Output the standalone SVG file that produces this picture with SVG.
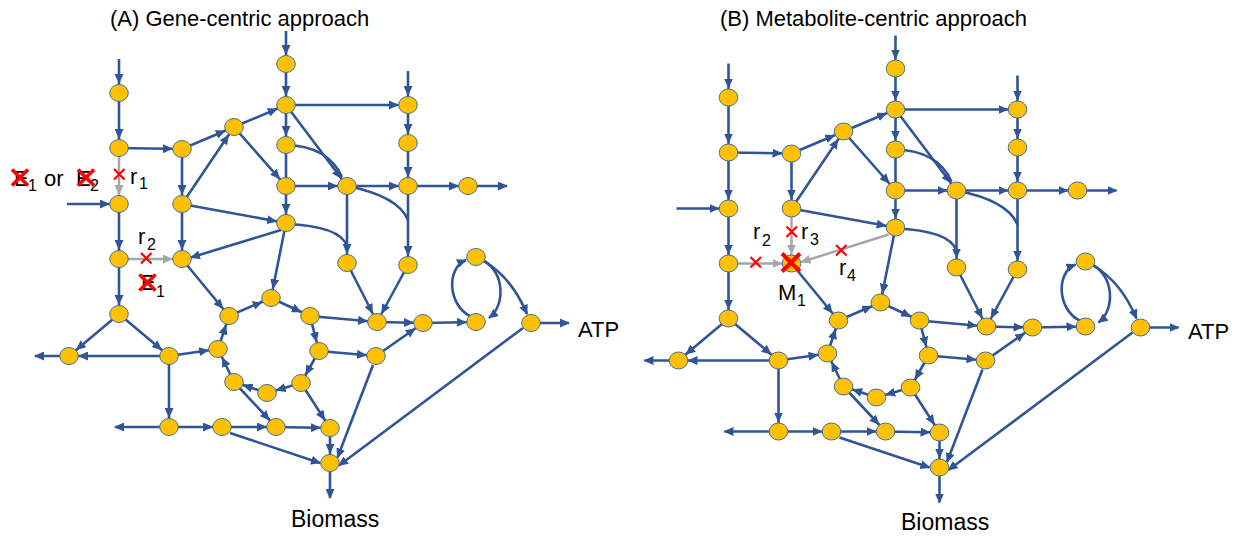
<svg xmlns="http://www.w3.org/2000/svg" width="1247" height="537" viewBox="0 0 1247 537">
<style>
.e{stroke:#2F5597;stroke-width:2.6;fill:none;marker-end:url(#a)}
.ef{stroke:#2F5597;stroke-width:2.6;fill:none;marker-end:url(#f)}
.en{stroke:#2F5597;stroke-width:2.6;fill:none}
.g{stroke:#A6A6A6;stroke-width:2.4;fill:none;marker-end:url(#ga)}
.gf{stroke:#A6A6A6;stroke-width:2.4;fill:none;marker-end:url(#gf)}
.node ellipse{fill:#FFC000;stroke:#41719C;stroke-width:1}
.x{stroke:#FF0000;stroke-width:2.2;fill:none}
.X{stroke:#FF0000;stroke-width:3.6;fill:none}
text{font-family:"Liberation Sans",Arial,sans-serif;fill:#000}
.t{font-size:22px}
.l{font-size:22px}
.s{font-size:16px}
</style>
<defs>
<marker id="a" markerUnits="userSpaceOnUse" markerWidth="10" markerHeight="9" viewBox="0 0 10 9" refX="19" refY="4.5" orient="auto"><path d="M0,0 L10,4.5 L0,9 z" fill="#2F5597"/></marker>
<marker id="f" markerUnits="userSpaceOnUse" markerWidth="10" markerHeight="9" viewBox="0 0 10 9" refX="9" refY="4.5" orient="auto"><path d="M0,0 L10,4.5 L0,9 z" fill="#2F5597"/></marker>
<marker id="ga" markerUnits="userSpaceOnUse" markerWidth="10" markerHeight="9" viewBox="0 0 10 9" refX="19" refY="4.5" orient="auto"><path d="M0,0 L10,4.5 L0,9 z" fill="#A6A6A6"/></marker>
<marker id="gf" markerUnits="userSpaceOnUse" markerWidth="10" markerHeight="9" viewBox="0 0 10 9" refX="9" refY="4.5" orient="auto"><path d="M0,0 L10,4.5 L0,9 z" fill="#A6A6A6"/></marker>
</defs>

<!-- Panel A -->
<g id="panelA">
<g id="a-edges">
<path class="e" d="M119,59 L119,93"/>
<path class="e" d="M286,31 L286,64"/>
<path class="e" d="M408,71 L408,105"/>
<path class="e" d="M67,204 L119,204"/>
<path class="e" d="M119,93 L119,148"/>
<path class="g" d="M119,148 L119,204"/>
<path class="e" d="M119,148 L182,149"/>
<path class="e" d="M119,204 L119,259"/>
<path class="g" d="M119,259 L182,259"/>
<path class="e" d="M119,259 L119,314"/>
<path class="e" d="M182,149 L182,204"/>
<path class="e" d="M182,149 L234,127"/>
<path class="e" d="M182,204 L182,259"/>
<path class="e" d="M182,204 L234,127"/>
<path class="e" d="M182,204 L286,223"/>
<path class="e" d="M234,127 L286,105"/>
<path class="e" d="M234,127 L286,186"/>
<path class="e" d="M286,64 L286,105"/>
<path class="e" d="M286,105 L286,145"/>
<path class="e" d="M286,105 L408,105"/>
<path class="e" d="M286,105 L347,186"/>
<path class="en" d="M286,145 L286,186"/>
<path class="en" d="M286,145 Q328,146 342,177"/>
<path class="e" d="M286,186 L286,223"/>
<path class="e" d="M286,186 L347,186"/>
<path class="ef" d="M281,230 L191,257.5"/>
<path class="e" d="M286,223 L271,298"/>
<path class="en" d="M286,224 Q340,226 347,246"/>
<path class="e" d="M408,105 L408,143"/>
<path class="e" d="M408,143 L408,186"/>
<path class="e" d="M347,186 L408,186"/>
<path class="e" d="M347,186 L347,263"/>
<path class="en" d="M347,186 Q398,196 408,220"/>
<path class="e" d="M408,186 L468,186"/>
<path class="ef" d="M468,186 L507,186"/>
<path class="e" d="M408,186 L408,265"/>
<path class="e" d="M347,263 L377,322"/>
<path class="e" d="M408,265 L377,322"/>
<path class="e" d="M377,322 L423,323"/>
<path class="e" d="M376,356 L423,323"/>
<path class="e" d="M423,323 L476,322"/>
<path class="ef" d="M470,316 C448,305 446,268 466,260"/>
<path class="ef" d="M484,261 C504,272 506,305 489,318"/>
<path class="ef" d="M484,261 Q512,278 527,314"/>
<path class="ef" d="M531,323 L569,323"/>
<path class="ef" d="M523,328 L339,465.5"/>
<path class="e" d="M182,259 L229,316"/>
<path class="e" d="M229,316 L271,298"/>
<path class="e" d="M271,298 L310,316"/>
<path class="e" d="M310,316 L319,351"/>
<path class="e" d="M319,351 L301,383"/>
<path class="e" d="M301,383 L267,393"/>
<path class="e" d="M267,393 L234,382"/>
<path class="e" d="M234,382 L218,349"/>
<path class="e" d="M218,349 L229,316"/>
<path class="e" d="M169,356 L218,349"/>
<path class="e" d="M310,316 L377,322"/>
<path class="e" d="M319,351 L376,356"/>
<path class="ef" d="M373,365 L337.5,457.5"/>
<path class="e" d="M301,383 L330,428"/>
<path class="e" d="M234,382 L276,427"/>
<path class="e" d="M119,314 L69,356"/>
<path class="e" d="M119,314 L169,356"/>
<path class="e" d="M169,356 L69,356"/>
<path class="ef" d="M69,356 L35,356"/>
<path class="e" d="M169,356 L169,427"/>
<path class="ef" d="M169,427 L115,427"/>
<path class="e" d="M169,427 L222,427"/>
<path class="e" d="M222,427 L276,427"/>
<path class="e" d="M276,427 L330,428"/>
<path class="e" d="M330,428 L330,463"/>
<path class="ef" d="M230,433 L320,463"/>
<path class="ef" d="M330,463 L330,498"/>
</g>
<g id="a-n1" class="node"><ellipse cx="119" cy="93" rx="9.3" ry="8.5"/></g>
<g id="a-n2" class="node"><ellipse cx="119" cy="148" rx="9.3" ry="8.5"/></g>
<g id="a-n3" class="node"><ellipse cx="119" cy="204" rx="9.3" ry="8.5"/></g>
<g id="a-n4" class="node"><ellipse cx="119" cy="259" rx="9.3" ry="8.5"/></g>
<g id="a-n5" class="node"><ellipse cx="182" cy="149" rx="9.3" ry="8.5"/></g>
<g id="a-n6" class="node"><ellipse cx="182" cy="204" rx="9.3" ry="8.5"/></g>
<g id="a-n7" class="node"><ellipse cx="182" cy="259" rx="9.3" ry="8.5"/></g>
<g id="a-n8" class="node"><ellipse cx="234" cy="127" rx="9.3" ry="8.5"/></g>
<g id="a-n9" class="node"><ellipse cx="286" cy="64" rx="9.3" ry="8.5"/></g>
<g id="a-n10" class="node"><ellipse cx="286" cy="105" rx="9.3" ry="8.5"/></g>
<g id="a-n11" class="node"><ellipse cx="286" cy="145" rx="9.3" ry="8.5"/></g>
<g id="a-n12" class="node"><ellipse cx="286" cy="186" rx="9.3" ry="8.5"/></g>
<g id="a-n13" class="node"><ellipse cx="286" cy="223" rx="9.3" ry="8.5"/></g>
<g id="a-n14" class="node"><ellipse cx="408" cy="105" rx="9.3" ry="8.5"/></g>
<g id="a-n15" class="node"><ellipse cx="408" cy="143" rx="9.3" ry="8.5"/></g>
<g id="a-n16" class="node"><ellipse cx="347" cy="186" rx="9.3" ry="8.5"/></g>
<g id="a-n17" class="node"><ellipse cx="408" cy="186" rx="9.3" ry="8.5"/></g>
<g id="a-n18" class="node"><ellipse cx="468" cy="186" rx="9.3" ry="8.5"/></g>
<g id="a-n19" class="node"><ellipse cx="347" cy="263" rx="9.3" ry="8.5"/></g>
<g id="a-n20" class="node"><ellipse cx="408" cy="265" rx="9.3" ry="8.5"/></g>
<g id="a-n21" class="node"><ellipse cx="476" cy="257" rx="9.3" ry="8.5"/></g>
<g id="a-n22" class="node"><ellipse cx="476" cy="322" rx="9.3" ry="8.5"/></g>
<g id="a-n23" class="node"><ellipse cx="377" cy="322" rx="9.3" ry="8.5"/></g>
<g id="a-n24" class="node"><ellipse cx="423" cy="323" rx="9.3" ry="8.5"/></g>
<g id="a-n25" class="node"><ellipse cx="531" cy="323" rx="9.3" ry="8.5"/></g>
<g id="a-n26" class="node"><ellipse cx="376" cy="356" rx="9.3" ry="8.5"/></g>
<g id="a-ra" class="node"><ellipse cx="229" cy="316" rx="9.3" ry="8.5"/></g>
<g id="a-rt" class="node"><ellipse cx="271" cy="298" rx="9.3" ry="8.5"/></g>
<g id="a-rb" class="node"><ellipse cx="310" cy="316" rx="9.3" ry="8.5"/></g>
<g id="a-rc" class="node"><ellipse cx="319" cy="351" rx="9.3" ry="8.5"/></g>
<g id="a-rd" class="node"><ellipse cx="301" cy="383" rx="9.3" ry="8.5"/></g>
<g id="a-re" class="node"><ellipse cx="267" cy="393" rx="9.3" ry="8.5"/></g>
<g id="a-rf" class="node"><ellipse cx="234" cy="382" rx="9.3" ry="8.5"/></g>
<g id="a-rg" class="node"><ellipse cx="218" cy="349" rx="9.3" ry="8.5"/></g>
<g id="a-t" class="node"><ellipse cx="119" cy="314" rx="9.3" ry="8.5"/></g>
<g id="a-tl" class="node"><ellipse cx="69" cy="356" rx="9.3" ry="8.5"/></g>
<g id="a-tr" class="node"><ellipse cx="169" cy="356" rx="9.3" ry="8.5"/></g>
<g id="a-b1" class="node"><ellipse cx="169" cy="427" rx="9.3" ry="8.5"/></g>
<g id="a-b2" class="node"><ellipse cx="222" cy="427" rx="9.3" ry="8.5"/></g>
<g id="a-b3" class="node"><ellipse cx="276" cy="427" rx="9.3" ry="8.5"/></g>
<g id="a-b4" class="node"><ellipse cx="330" cy="428" rx="9.3" ry="8.5"/></g>
<g id="a-bm" class="node"><ellipse cx="330" cy="463" rx="9.3" ry="8.5"/></g>
</g>

<!-- Panel B -->
<g id="panelB" transform="translate(609.5,4.5)">
<g id="b-edges">
<path class="e" d="M119,59 L119,93"/>
<path class="e" d="M286,31 L286,64"/>
<path class="e" d="M408,71 L408,105"/>
<path class="e" d="M67,204 L119,204"/>
<path class="e" d="M119,93 L119,148"/>
<path class="e" d="M119,148 L119,204"/>
<path class="e" d="M119,148 L182,149"/>
<path class="e" d="M119,204 L119,259"/>
<path class="g" d="M119,259 L182,259"/>
<path class="e" d="M119,259 L119,314"/>
<path class="e" d="M182,149 L182,204"/>
<path class="e" d="M182,149 L234,127"/>
<path class="g" d="M182,204 L182,259"/>
<path class="e" d="M182,204 L234,127"/>
<path class="e" d="M182,204 L286,223"/>
<path class="e" d="M234,127 L286,105"/>
<path class="e" d="M234,127 L286,186"/>
<path class="e" d="M286,64 L286,105"/>
<path class="e" d="M286,105 L286,145"/>
<path class="e" d="M286,105 L408,105"/>
<path class="e" d="M286,105 L347,186"/>
<path class="en" d="M286,145 L286,186"/>
<path class="en" d="M286,145 Q328,146 342,177"/>
<path class="e" d="M286,186 L286,223"/>
<path class="e" d="M286,186 L347,186"/>
<path class="gf" d="M279,230 L192,257.5"/>
<path class="e" d="M286,223 L271,298"/>
<path class="en" d="M286,224 Q340,226 347,246"/>
<path class="e" d="M408,105 L408,143"/>
<path class="e" d="M408,143 L408,186"/>
<path class="e" d="M347,186 L408,186"/>
<path class="e" d="M347,186 L347,263"/>
<path class="en" d="M347,186 Q398,196 408,220"/>
<path class="e" d="M408,186 L468,186"/>
<path class="ef" d="M468,186 L507,186"/>
<path class="e" d="M408,186 L408,265"/>
<path class="e" d="M347,263 L377,322"/>
<path class="e" d="M408,265 L377,322"/>
<path class="e" d="M377,322 L423,323"/>
<path class="e" d="M376,356 L423,323"/>
<path class="e" d="M423,323 L476,322"/>
<path class="ef" d="M470,316 C448,305 446,268 466,260"/>
<path class="ef" d="M484,261 C504,272 506,305 489,318"/>
<path class="ef" d="M484,261 Q512,278 527,314"/>
<path class="ef" d="M531,323 L569,323"/>
<path class="ef" d="M523,328 L339,465.5"/>
<path class="e" d="M182,259 L229,316"/>
<path class="e" d="M229,316 L271,298"/>
<path class="e" d="M271,298 L310,316"/>
<path class="e" d="M310,316 L319,351"/>
<path class="e" d="M319,351 L301,383"/>
<path class="e" d="M301,383 L267,393"/>
<path class="e" d="M267,393 L234,382"/>
<path class="e" d="M234,382 L218,349"/>
<path class="e" d="M218,349 L229,316"/>
<path class="e" d="M169,356 L218,349"/>
<path class="e" d="M310,316 L377,322"/>
<path class="e" d="M319,351 L376,356"/>
<path class="ef" d="M373,365 L337.5,457.5"/>
<path class="e" d="M301,383 L330,428"/>
<path class="e" d="M234,382 L276,427"/>
<path class="e" d="M119,314 L69,356"/>
<path class="e" d="M119,314 L169,356"/>
<path class="e" d="M169,356 L69,356"/>
<path class="ef" d="M69,356 L35,356"/>
<path class="e" d="M169,356 L169,427"/>
<path class="ef" d="M169,427 L115,427"/>
<path class="e" d="M169,427 L222,427"/>
<path class="e" d="M222,427 L276,427"/>
<path class="e" d="M276,427 L330,428"/>
<path class="e" d="M330,428 L330,463"/>
<path class="ef" d="M230,433 L320,463"/>
<path class="ef" d="M330,463 L330,498"/>
</g>
<g id="b-n1" class="node"><ellipse cx="119" cy="93" rx="9.3" ry="8.5"/></g>
<g id="b-n2" class="node"><ellipse cx="119" cy="148" rx="9.3" ry="8.5"/></g>
<g id="b-n3" class="node"><ellipse cx="119" cy="204" rx="9.3" ry="8.5"/></g>
<g id="b-n4" class="node"><ellipse cx="119" cy="259" rx="9.3" ry="8.5"/></g>
<g id="b-n5" class="node"><ellipse cx="182" cy="149" rx="9.3" ry="8.5"/></g>
<g id="b-n6" class="node"><ellipse cx="182" cy="204" rx="9.3" ry="8.5"/></g>
<g id="b-m1" class="node"><ellipse cx="182" cy="259" rx="9.3" ry="8.5"/></g>
<g id="b-n8" class="node"><ellipse cx="234" cy="127" rx="9.3" ry="8.5"/></g>
<g id="b-n9" class="node"><ellipse cx="286" cy="64" rx="9.3" ry="8.5"/></g>
<g id="b-n10" class="node"><ellipse cx="286" cy="105" rx="9.3" ry="8.5"/></g>
<g id="b-n11" class="node"><ellipse cx="286" cy="145" rx="9.3" ry="8.5"/></g>
<g id="b-n12" class="node"><ellipse cx="286" cy="186" rx="9.3" ry="8.5"/></g>
<g id="b-n13" class="node"><ellipse cx="286" cy="223" rx="9.3" ry="8.5"/></g>
<g id="b-n14" class="node"><ellipse cx="408" cy="105" rx="9.3" ry="8.5"/></g>
<g id="b-n15" class="node"><ellipse cx="408" cy="143" rx="9.3" ry="8.5"/></g>
<g id="b-n16" class="node"><ellipse cx="347" cy="186" rx="9.3" ry="8.5"/></g>
<g id="b-n17" class="node"><ellipse cx="408" cy="186" rx="9.3" ry="8.5"/></g>
<g id="b-n18" class="node"><ellipse cx="468" cy="186" rx="9.3" ry="8.5"/></g>
<g id="b-n19" class="node"><ellipse cx="347" cy="263" rx="9.3" ry="8.5"/></g>
<g id="b-n20" class="node"><ellipse cx="408" cy="265" rx="9.3" ry="8.5"/></g>
<g id="b-n21" class="node"><ellipse cx="476" cy="257" rx="9.3" ry="8.5"/></g>
<g id="b-n22" class="node"><ellipse cx="476" cy="322" rx="9.3" ry="8.5"/></g>
<g id="b-n23" class="node"><ellipse cx="377" cy="322" rx="9.3" ry="8.5"/></g>
<g id="b-n24" class="node"><ellipse cx="423" cy="323" rx="9.3" ry="8.5"/></g>
<g id="b-n25" class="node"><ellipse cx="531" cy="323" rx="9.3" ry="8.5"/></g>
<g id="b-n26" class="node"><ellipse cx="376" cy="356" rx="9.3" ry="8.5"/></g>
<g id="b-ra" class="node"><ellipse cx="229" cy="316" rx="9.3" ry="8.5"/></g>
<g id="b-rt" class="node"><ellipse cx="271" cy="298" rx="9.3" ry="8.5"/></g>
<g id="b-rb" class="node"><ellipse cx="310" cy="316" rx="9.3" ry="8.5"/></g>
<g id="b-rc" class="node"><ellipse cx="319" cy="351" rx="9.3" ry="8.5"/></g>
<g id="b-rd" class="node"><ellipse cx="301" cy="383" rx="9.3" ry="8.5"/></g>
<g id="b-re" class="node"><ellipse cx="267" cy="393" rx="9.3" ry="8.5"/></g>
<g id="b-rf" class="node"><ellipse cx="234" cy="382" rx="9.3" ry="8.5"/></g>
<g id="b-rg" class="node"><ellipse cx="218" cy="349" rx="9.3" ry="8.5"/></g>
<g id="b-t" class="node"><ellipse cx="119" cy="314" rx="9.3" ry="8.5"/></g>
<g id="b-tl" class="node"><ellipse cx="69" cy="356" rx="9.3" ry="8.5"/></g>
<g id="b-tr" class="node"><ellipse cx="169" cy="356" rx="9.3" ry="8.5"/></g>
<g id="b-b1" class="node"><ellipse cx="169" cy="427" rx="9.3" ry="8.5"/></g>
<g id="b-b2" class="node"><ellipse cx="222" cy="427" rx="9.3" ry="8.5"/></g>
<g id="b-b3" class="node"><ellipse cx="276" cy="427" rx="9.3" ry="8.5"/></g>
<g id="b-b4" class="node"><ellipse cx="330" cy="428" rx="9.3" ry="8.5"/></g>
<g id="b-bm" class="node"><ellipse cx="330" cy="463" rx="9.3" ry="8.5"/></g>
</g>

<!-- Labels -->
<g id="labels">
<text class="t" x="110" y="26">(A) Gene-centric approach</text>
<text class="t" x="720" y="26">(B) Metabolite-centric approach</text>
<text class="l" y="186"><tspan x="14">E</tspan><tspan x="28" dy="5" class="s">1</tspan><tspan x="44" dy="-5">or</tspan><tspan x="76">E</tspan><tspan x="90" dy="5" class="s">2</tspan></text>
<text class="l" y="183.5"><tspan x="130">r</tspan><tspan x="139" dy="5" class="s">1</tspan></text>
<text class="l" y="243.5"><tspan x="138">r</tspan><tspan x="147" dy="6.5" class="s">2</tspan></text>
<text class="l" y="290"><tspan x="141">E</tspan><tspan x="156" dy="6.5" class="s">1</tspan></text>
<text class="l" x="578" y="337">ATP</text>
<text class="l" x="291" y="527" style="font-size:23px">Biomass</text>
<text class="l" y="239"><tspan x="753">r</tspan><tspan x="762" dy="6.5" class="s">2</tspan></text>
<text class="l" y="238.5"><tspan x="801">r</tspan><tspan x="810" dy="6.5" class="s">3</tspan></text>
<text class="l" y="275"><tspan x="839">r</tspan><tspan x="847" dy="5.5" class="s">4</tspan></text>
<text class="l" y="300"><tspan x="778">M</tspan><tspan x="797" dy="5.5" class="s">1</tspan></text>
<text class="l" x="1188" y="338.5">ATP</text>
<text class="l" x="901" y="530" style="font-size:23px">Biomass</text>
</g>

<!-- Knock-out marks -->
<g id="marks">
<path class="X" d="M12,169.5 L28,185.5 M28,169.5 L12,185.5"/>
<path class="X" d="M78,169.5 L94,185.5 M94,169.5 L78,185.5"/>
<path class="X" d="M139.5,274.5 L155.5,290.5 M155.5,274.5 L139.5,290.5"/>
<path class="x" d="M114,169 L124.5,179.5 M124.5,169 L114,179.5"/>
<path class="x" d="M141,253 L151.5,263.5 M151.5,253 L141,263.5"/>
<path class="x" d="M750.5,257 L761,267.5 M761,257 L750.5,267.5"/>
<path class="x" d="M786.5,226.5 L797,237 M797,226.5 L786.5,237"/>
<path class="x" d="M836,245 L846.5,255.5 M846.5,245 L836,255.5"/>
<path class="X" d="M782,253.5 L800,271.5 M800,253.5 L782,271.5" style="stroke-width:4"/>
</g>
</svg>
